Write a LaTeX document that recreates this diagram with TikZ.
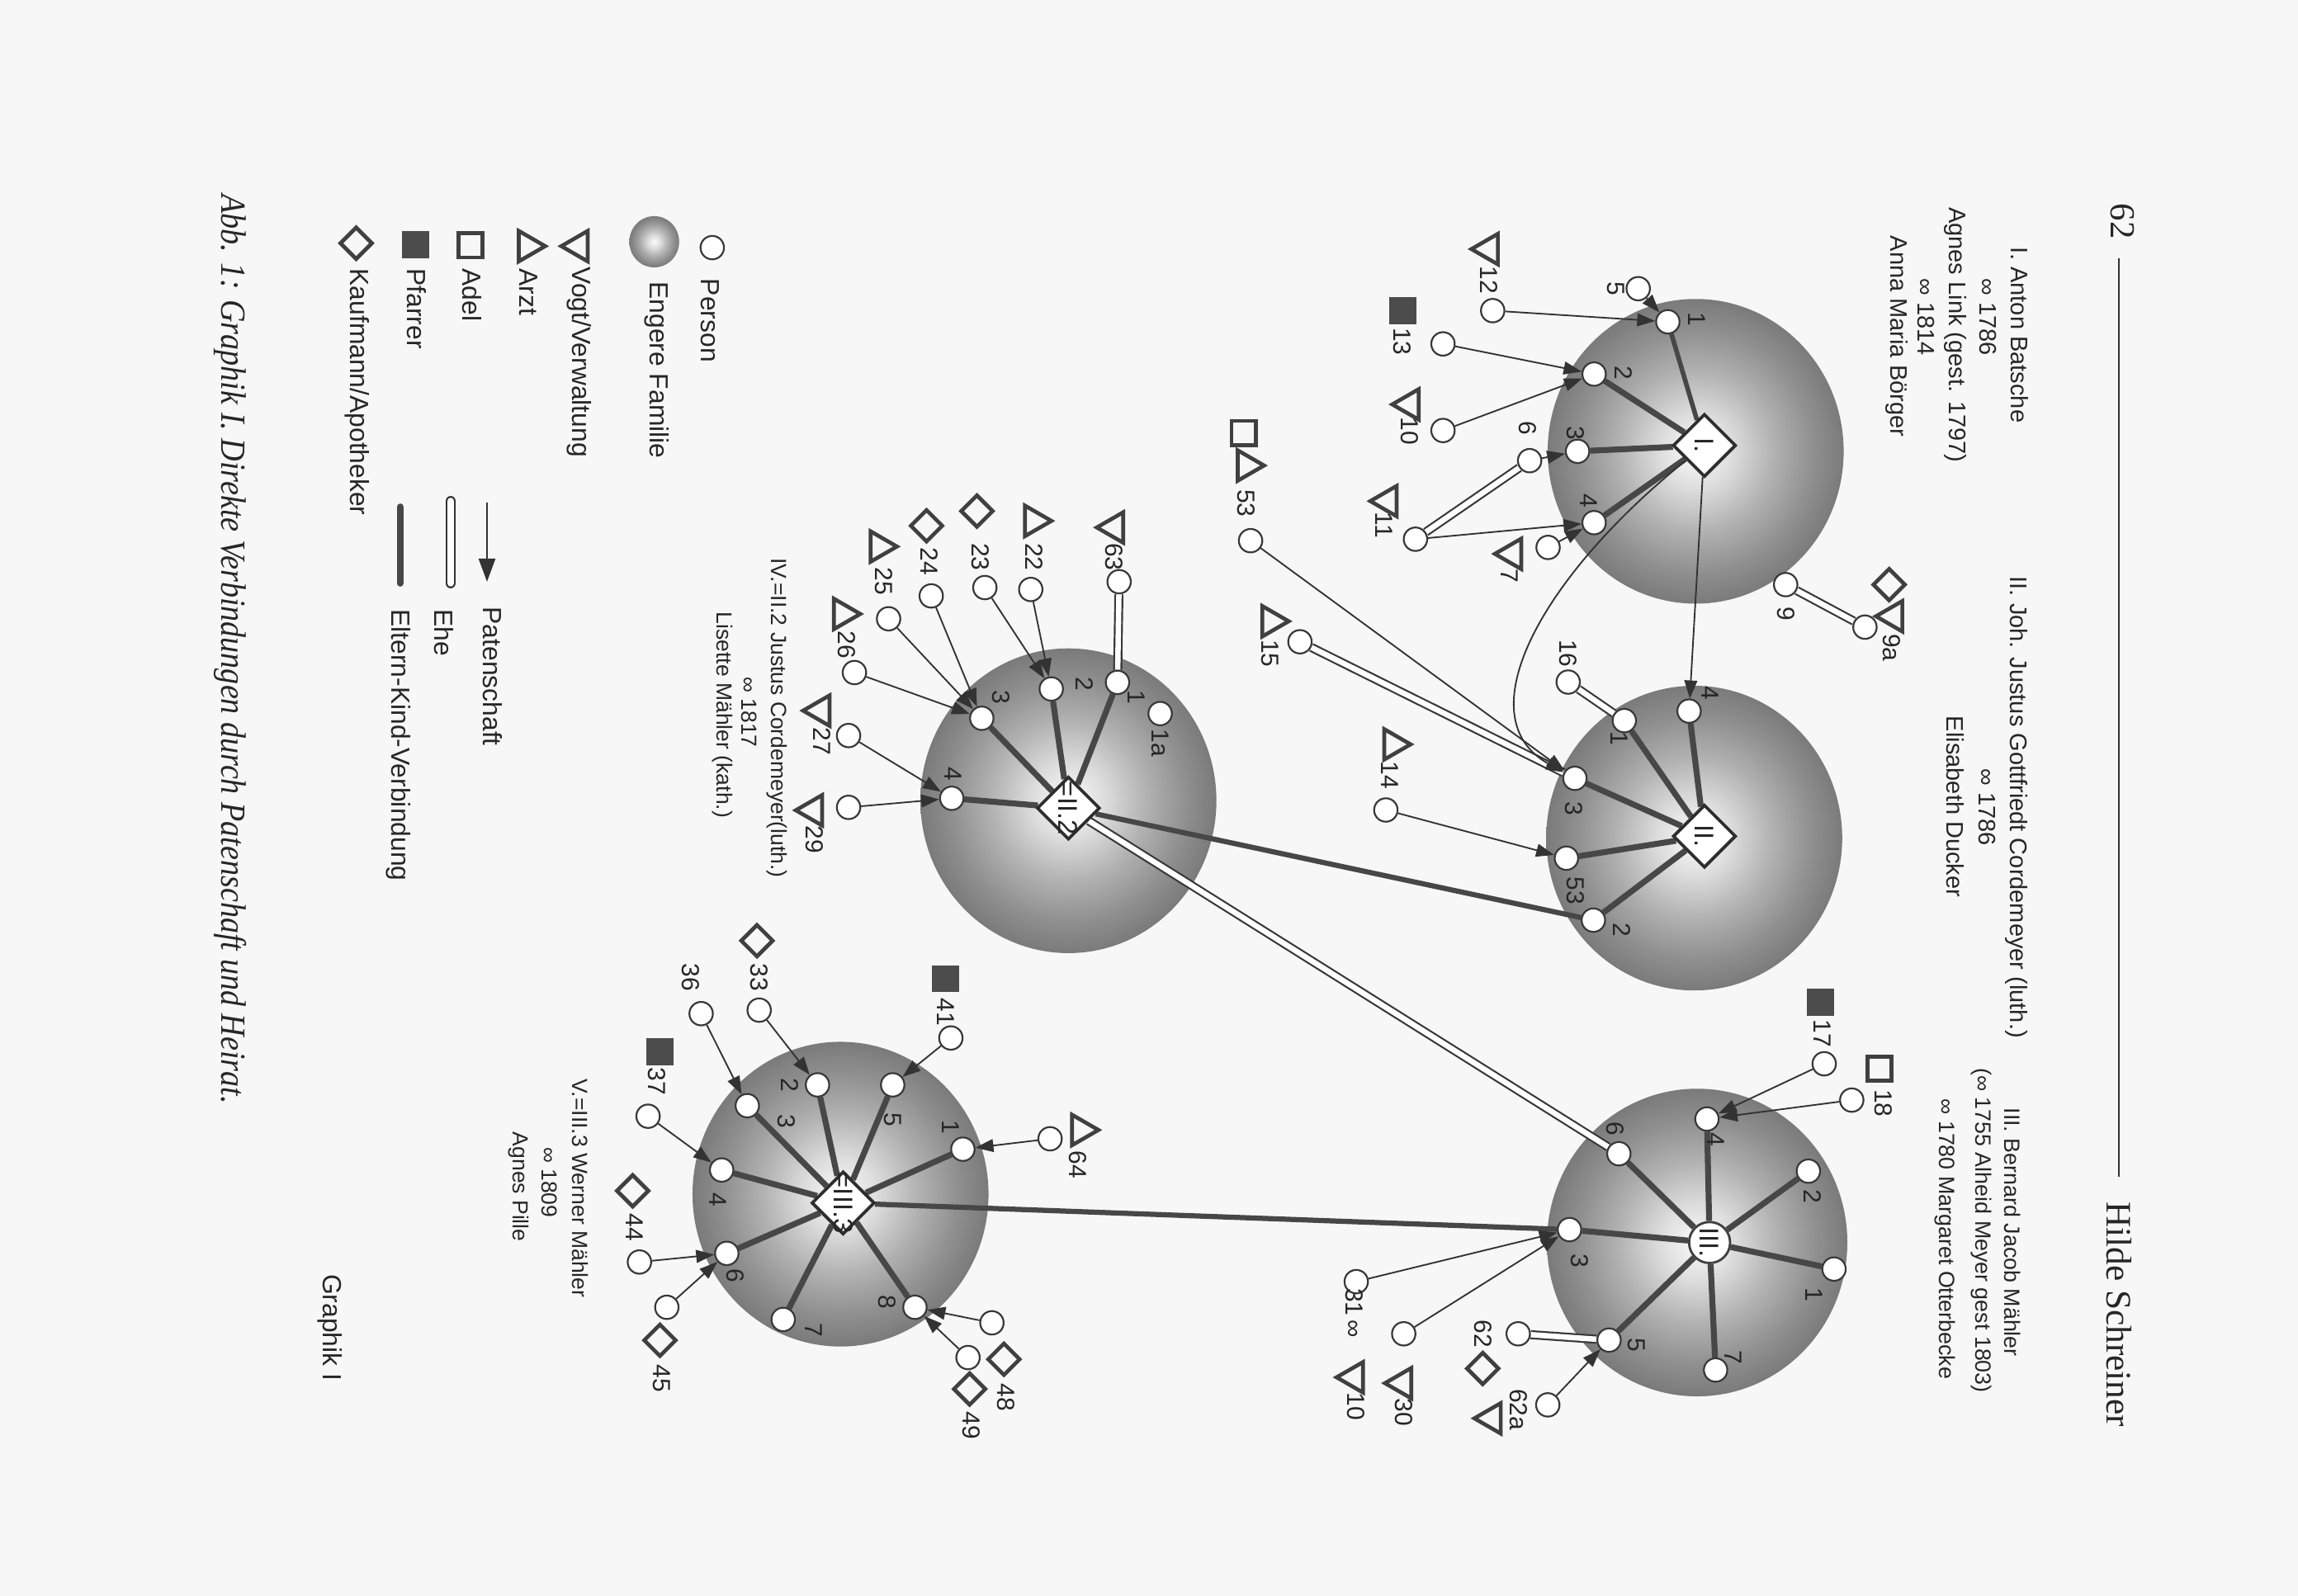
\documentclass[tikz,border=0pt]{standalone}
\usepackage{fontspec}
\setmainfont{Liberation Sans}
\newfontfamily\seriffont{Liberation Serif}
\usetikzlibrary{arrows.meta,shapes.geometric}
\pgfdeclarelayer{bg}\pgfdeclarelayer{edges}
\pgfsetlayers{bg,edges,main}
\pgfdeclareradialshading{sph}{\pgfpoint{0bp}{0bp}}{color(0bp)=(black!2); color(6bp)=(black!13); color(13bp)=(black!30); color(20bp)=(black!44); color(25bp)=(black!52); color(50bp)=(black!52)}
\newcommand\fhead{\fontsize{9.3pt}{11pt}\selectfont}
\newcommand\fheadc{\fontsize{8.6pt}{10pt}\selectfont}
\newcommand\fsub{\fontsize{8.5pt}{10pt}\selectfont}
\newcommand\fleg{\fontsize{10.2pt}{12pt}\selectfont}
\newcommand\fnum{\fontsize{9.6pt}{11pt}\selectfont}
\newcommand\fctr{\fontsize{10.5pt}{12pt}\selectfont}
\begin{document}
\begin{tikzpicture}[x=0.02cm,y=-0.02cm,
  pers/.style={circle,draw=black!78,fill=white,line width=0.7pt,minimum size=0.32cm,inner sep=0},
  ctrd/.style={diamond,aspect=1,draw=black!82,fill=white,line width=1.2pt,minimum size=0.86cm,inner sep=0},
  ctrc/.style={circle,draw=black!75,fill=white,line width=0.9pt,minimum size=0.56cm,inner sep=0},
  rtxt/.style={rotate=-90,inner sep=0,text=black!85},
  lab/.style={rtxt,font=\fnum},
  symarzt/.style={regular polygon,regular polygon sides=3,shape border rotate=-90,draw=black!75,line width=1.5pt,minimum size=0.48cm,inner sep=0},
  symvogt/.style={regular polygon,regular polygon sides=3,shape border rotate=90,draw=black!75,line width=1.5pt,minimum size=0.48cm,inner sep=0},
  symadel/.style={rectangle,draw=black!75,line width=1.5pt,minimum size=0.33cm,inner sep=0},
  sympf/.style={rectangle,fill=black!70,minimum size=0.37cm,inner sep=0},
  symkf/.style={diamond,aspect=1,draw=black!75,line width=1.5pt,minimum size=0.45cm,inner sep=0},
  ek/.style={draw=black!72,line width=2.3pt},
  pat/.style={draw=black!80,line width=0.6pt,-{Triangle[length=7pt,width=5pt]}},
  ehe/.style={draw=black!78,line width=0.7pt,double=white,double distance=2.1pt},
]
\useasboundingbox (0,0) rectangle (1568,1089);
\begin{pgfonlayer}{bg}
\fill[white!97!black] (0,0) rectangle (1568,1089);
\shade[shading=sph] (1157,308) ellipse (2.02cm and 2.08cm);
\shade[shading=sph] (1156,572) ellipse (2.02cm and 2.08cm);
\shade[shading=sph] (1158,848) ellipse (2.05cm and 2.1cm);
\shade[shading=sph] (729,546.5) ellipse (2.02cm and 2.08cm);
\shade[shading=sph] (573.5,815) ellipse (2.02cm and 2.08cm);
\shade[shading=sph] (446.4,165) ellipse (0.34cm and 0.35cm);
\end{pgfonlayer}

% header
\node[rtxt,font=\seriffont\fontsize{13.7pt}{15pt}\selectfont] (pagenum) at (1448.5,151) {62};
\coordinate (rule1) at (1446,176);
\coordinate (rule2) at (1446,803);
\draw[black!80,line width=0.6pt] (rule1) -- (rule2);
\node[rtxt,font=\seriffont\fontsize{13.9pt}{15pt}\selectfont] (author) at (1446,897) {Hilde Schreiner};

\node[rtxt,font=\fhead] (hI1) at (1378,228.5) {I. Anton Batsche};
\node[rtxt,font=\fhead] (hI2) at (1356.5,216.5) {∞ 1786};
\node[rtxt,font=\fhead] (hI3) at (1334,228.5) {Agnes Link (gest. 1797)};
\node[rtxt,font=\fhead] (hI4) at (1314.2,216.5) {∞ 1814};
\node[rtxt,font=\fhead] (hI5) at (1294,229.5) {Anna Maria Börger};
\node[rtxt,font=\fhead] (hII1) at (1376.2,551) {II. Joh. Justus Gottfriedt Cordemeyer (luth.)};
\node[rtxt,font=\fhead] (hII2) at (1355.9,551) {∞ 1786};
\node[rtxt,font=\fhead] (hII3) at (1334,550.6) {Elisabeth Ducker};
\node[rtxt,font=\fheadc] (hIII1) at (1373.4,841) {III. Bernard Jacob Mähler};
\node[rtxt,font=\fheadc] (hIII2) at (1351.8,839.8) {(∞ 1755 Alheid Meyer gest 1803)};
\node[rtxt,font=\fheadc] (hIII3) at (1327,845.6) {∞ 1780 Margaret Otterbecke};
\node[rtxt,font=\fsub] (hIV1) at (530,490) {IV.=II.2 Justus Cordemeyer(luth.)};
\node[rtxt,font=\fsub] (hIV2) at (511,486) {∞ 1817};
\node[rtxt,font=\fsub] (hIV3) at (493,488) {Lisette Mähler (kath.)};
\node[rtxt,font=\fsub] (hV1) at (396,811) {V.=III.3 Werner Mähler};
\node[rtxt,font=\fsub] (hV2) at (375,807) {∞ 1809};
\node[rtxt,font=\fsub] (hV3) at (354,810) {Agnes Pille};
\node[rtxt,font=\fleg] (graphik) at (225,906) {Graphik I};
\node[rtxt] (caption) at (157,443) {\resizebox{12.42cm}{0.34cm}{\seriffont\itshape Abb. 1: Graphik I. Direkte Verbindungen durch Patenschaft und Heirat.}};

% legend
\node[pers] (lgP) at (486,169) {};
\node[rtxt,font=\fleg,anchor=west] (lgPt) at (484.5,190) {Person};
\node[rtxt,font=\fleg,anchor=west] (lgFt) at (448,192) {Engere Familie};
\node[symvogt] (lgV) at (395,168) {};
\node[rtxt,font=\fleg,anchor=west] (lgVt) at (395.2,182) {Vogt/Verwaltung};
\node[symarzt] (lgA) at (360,168) {};
\node[rtxt,font=\fleg,anchor=west] (lgAt) at (360.5,183) {Arzt};
\node[symadel] (lgD) at (321,167.5) {};
\node[rtxt,font=\fleg,anchor=west] (lgDt) at (322,183) {Adel};
\node[sympf] (lgF) at (283.4,167) {};
\node[rtxt,font=\fleg,anchor=west] (lgFft) at (284.5,183) {Pfarrer};
\node[symkf] (lgK) at (243,166) {};
\node[rtxt,font=\fleg,anchor=west] (lgKt) at (243.5,183) {Kaufmann/Apotheker};
\coordinate (la1) at (332.3,343); \coordinate (la2) at (332.3,397);
\draw[pat,-{Triangle[length=9pt,width=6.5pt]}] (la1) -- (la2);
\node[rtxt,font=\fleg,anchor=west] (laT) at (336,414) {Patenschaft};
\coordinate (le1) at (307.5,342); \coordinate (le2) at (307.5,398);
\draw[draw=black!80,line width=0.7pt,double=white,double distance=2.6pt,line cap=round] (le1) -- (le2);
\node[rtxt,font=\fleg,anchor=west] (leT) at (303.2,415.6) {Ehe};
\coordinate (lk1) at (273,346); \coordinate (lk2) at (273,398);
\draw[draw=black!72,line width=2.7pt,line cap=round] (lk1) -- (lk2);
\node[rtxt,font=\fleg,anchor=west] (lkT) at (271.6,415.6) {Eltern-Kind-Verbindung};

% centre nodes
\node[ctrd] (I) at (1163,304) {};
\node[ctrd] (II) at (1163,570.7) {};
\node[ctrc] (III) at (1166.5,848) {};
\node[ctrd] (IV) at (729,551.5) {};
\node[ctrd] (V) at (575.3,821) {};

% persons
\foreach \n/\x/\y in {I1/1138/219.6,I2/1087.7/255.3,I3/1076.4/308,I4/1087.7/356.7,p5/1117.8/197,p12/1018.5/212,p13/984.6/234.7,p10/984.6/293.8,p6/1043.7/314.4,p11/965.8/368,p7/1056.3/373.6,p9/1218.4/399,p9a/1272.5/428,
 II4/1152.5/485.3,II1/1108.3/491.8,p16/1070/465.5,II3/1074.6/531.2,II53/1068.8/585.7,II2/1087.2/628,p14/945.6/552.8,p53/853.3/369,p15/887/438,
 III4/1164.7/763.7,III2/1233.9/799.3,III1/1251.4/866.1,III7/1170.6/935,III5/1097.9/914.6,III3/1070.9/839.2,III6/1104.6/787.4,p17/1244.7/726,p18/1263.5/750.8,p62/1035.9/910.3,p62a/1056.1/958.8,p31/925.4/874.7,p30/957.8/910.3,
 IV1/762.5/465.7,p1a/791.6/487,p63/763.6/397,IV2/717.3/470.2,p22/703.3/402.3,p23/672/401,p24/635.4/406.7,p25/606.3/422.3,p26/583/459,IV3/669.9/490.2,IV4/649.4/544.8,p27/579/502,p29/579/551,
 V1/657/784.3,p64/716.5/777.2,V5/609.1/740.4,p41/648.8/708.4,V2/557.8/740.4,p33/518/689.4,V3/509.9/754.6,p36/478.4/691.8,V4/492.4/798.5,p37/442.2/761.8,V6/495.9/855.4,p44/436.3/861.3,p45/455/892.2,V7/534.4/900.5,V8/624.3/892.2,p48/676.8/902.8,p49/660.5/926.5}
 {\node[pers] (\n) at (\x,\y) {};}

% centre texts
\node[rtxt,font=\fctr] (tI) at (I) {I.};
\node[rtxt,font=\fctr] (tII) at (II) {II.};
\node[rtxt,font=\fctr] (tIII) at (III) {III.};
\node[rtxt,font=\fctr] (tIV) at (IV) {=II.2};
\node[rtxt,font=\fctr] (tV) at (V) {=III.3};

% number labels
\foreach \n/\x/\y/\t in {lI1/1158/218/1,lI2/1108/254.5/2,lI3/1075/295.5/3,lI4/1084/341.5/4,l5/1102.8/197/5,l12/1016/191/12,l13/957/233/13,l10/962/294/10,l6/1042.4/292/6,l11/944.4/358.5/11,l7/1030/393/7,l9/1218.4/419/9,l9a/1291/442/9a,
 lII4/1167/473/4,lII1/1105/504/1,l16/1070/446/16,lII3/1074/552/3,lII53/1075/608/53,lII2/1106.5/634.5/2,l14/948.5/529/14,l53/850.5/343.4/53,l15/866.4/446/15,
 lIII4/1170.6/777.7/4,lIII2/1236.6/816.5/2,lIII1/1238/883.3/1,lIII7/1182.7/926.4/7,lIII5/1116.7/917.8/5,lIII3/1077.7/860.7/3,lIII6/1101.9/770.2/6,l17/1243.3/705.5/17,l18/1285/753/18,l62/1011.7/910.3/62,l62a/1036/962/62a,l10b/925/960/10,l30/957.8/964/30,
 lIV1/775.5/476/1,l1a/791.6/507/1a,l63/760.4/380/63,lIV2/740/467/2,l22/705.4/380/22,l23/668.8/380/23,l24/634.3/383.3/24,l25/603/396.7/25,l26/578/440/26,lIV3/682.8/475.7/3,lIV4/650.5/528/4,l27/561/506/27,l29/556/573/29,
 lV1/648.8/769/1,l64/735.2/795/64,lV5/609.1/764/5,l41/645.3/690.6/41,lV2/539/740.4/2,l33/518/667/33,lV3/536.7/765.3/3,l36/471.4/667/36,lV4/490/818.7/4,l37/448/738/37,lV6/501.7/870.8/6,l44/432.8/837.6/44,l45/451.5/940.8/45,lV7/555.4/907.6/7,lV8/605.6/888.6/8,l48/686.2/953.8/48,l49/662.8/972.8/49}
 {\node[lab] (\n) at (\x,\y) {\t};}
\node[lab] (l31) at (924,896) {31\,∞};

% symbols
\foreach \n/\x/\y/\s in {s12/1016/170/symvogt,s13/957/212/sympf,s10/962/276/symvogt,s11/947/342/symvogt,s7/1032/378/symvogt,s9a1/1289/399/symkf,s9a2/1292/420.6/symvogt,
 s14/950.5/508/symarzt,s53a/848.6/295.5/symadel,s53b/850.5/317.7/symarzt,s15/867.3/424/symarzt,
 s17/1242/684/sympf,s18/1282.4/729.3/symadel,s62/1011.7/934/symkf,s62a/1018/968/symvogt,s31/924/940/symvogt,s30/957/944/symvogt,
 s63/760.4/360/symvogt,s22/705.4/355.5/symarzt,s23/666.6/348.8/symkf,s24/632.2/358.8/symkf,s25/600/373/symarzt,s26/575/419/symarzt,s27/560/485/symvogt,s29/555/553/symvogt,
 s64/737.5/771.2/symarzt,s41/645.3/668/sympf,s33/516.5/642/symkf,s37/450.3/718/sympf,s44/431.7/812.7/symkf,s45/450.3/914.7/symkf,s48/685/927.7/symkf,s49/661.6/948/symkf}
 {\node[\s] (\n) at (\x,\y) {};}

\begin{pgfonlayer}{edges}
% Eltern-Kind
\draw[ek,line width=1.8pt] (I) -- (I1);
\foreach \n in {I2,I3,I4} \draw[ek] (I) -- (\n);
\foreach \n in {II4,II1,II3,II53,II2} \draw[ek] (II) -- (\n);
\foreach \n in {III1,III2,III3,III4,III5,III6,III7} \draw[ek] (III) -- (\n);
\foreach \n in {IV1,IV2,IV3,IV4} \draw[ek] (IV) -- (\n);
\foreach \n in {V1,V2,V3,V4,V5,V6,V7,V8} \draw[ek] (V) -- (\n);
\draw[ek,line width=2pt] (II2) -- (IV);
\draw[ek,line width=2pt] (V) -- (III3);
% Ehe
\draw[ehe] (p11) -- (p6);
\draw[ehe] (p9) -- (p9a);
\draw[ehe] (p16) -- (II1);
\draw[ehe] (p15) -- (II3);
\draw[ehe] (p63) -- (IV1);
\draw[ehe] (IV) -- (III6);
\draw[ehe] (p62) -- (III5);
% Patenschaft
\foreach \a/\b in {p5/I1,p12/I1,p13/I2,p10/I2,p6/I3,p11/I4,p7/I4,I/II4,p53/II3,p14/II53,
  p17/III4,p18/III4,p62a/III5,p31/III3,p30/III3,
  p22/IV2,p23/IV2,p24/IV3,p25/IV3,p26/IV3,p27/IV4,p29/IV4,
  p64/V1,p41/V5,p33/V2,p36/V3,p37/V4,p44/V6,p45/V6,p48/V8,p49/V8}
  \draw[pat] (\a) -- (\b);
\draw[pat] (I) .. controls (1050,395) and (1000,490) .. (II3);
\end{pgfonlayer}
\end{tikzpicture}
\end{document}
